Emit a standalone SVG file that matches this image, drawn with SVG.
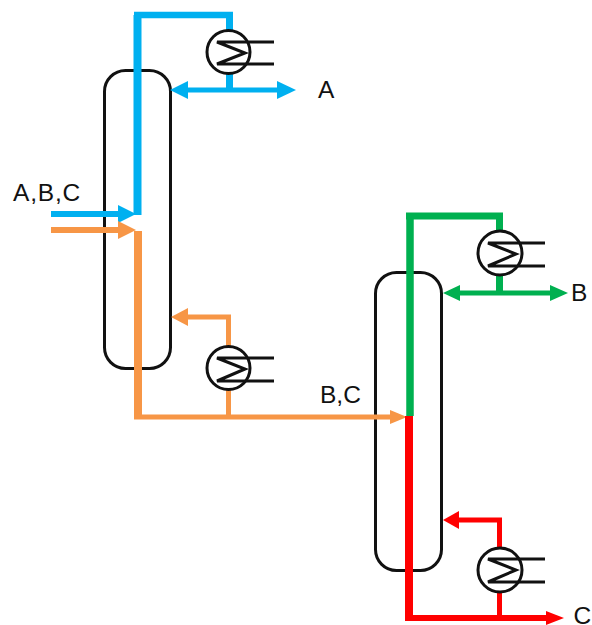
<svg xmlns="http://www.w3.org/2000/svg" width="592" height="625" viewBox="0 0 592 625">
<style>
.col{fill:none;stroke:#111;stroke-width:3}
.ex circle{fill:#fff;stroke:#111;stroke-width:3}
.ex path{fill:none;stroke:#111;stroke-width:3}
.c{fill:none;stroke-linejoin:miter}
.b{stroke:#00b0f0}.o{stroke:#f79646}.g{stroke:#00b050}.r{stroke:#ff0000}
.fb{fill:#00b0f0}.fo{fill:#f79646}.fg{fill:#00b050}.fr{fill:#ff0000}
text{font-family:"Liberation Sans",Arial,sans-serif;font-size:24.500px;fill:#111}
</style>
<rect width="592" height="625" fill="#fff"/>
<g id="column-1"><rect class="col" x="104.500" y="70.500" width="66" height="298" rx="21"/></g>
<g id="column-2"><rect class="col" x="375.500" y="272.500" width="66" height="298" rx="21"/></g>
<g id="connectors">
<path class="c b" stroke-width="8" d="M137.500 215V15"/>
<path class="c b" stroke-width="6.500" d="M134 15H233"/>
<path class="c b" stroke-width="7" d="M229.500 15V90"/>
<path class="c b" stroke-width="5" d="M185 90H280"/>
<path class="fb" d="M170 90L188 81V99Z"/><path class="fb" d="M296 90L277 81V99Z"/>
<path class="c b" stroke-width="6" d="M51 214H120"/><path class="fb" d="M136 214L118 205V223Z"/>
<path class="c o" stroke-width="6" d="M51 230H120"/><path class="fo" d="M136 230L118 221V239Z"/>
<path class="c o" stroke-width="8" d="M138 231V417"/>
<path class="c o" stroke-width="5" d="M134 417H392"/><path class="fo" d="M407 417L390 410V424Z"/>
<path class="c o" stroke-width="5" d="M228.500 417V317H185"/><path class="fo" d="M171 317L188 308V326Z"/>
<path class="c g" stroke-width="7.500" d="M410 416V216"/>
<path class="c g" stroke-width="7" d="M406 216H503"/>
<path class="c g" stroke-width="7" d="M499.500 216V293"/>
<path class="c g" stroke-width="5" d="M458 293H553"/>
<path class="fg" d="M443 293L460 285V301Z"/><path class="fg" d="M568 293L550 285V301Z"/>
<path class="c r" stroke-width="8" d="M409 416V621"/>
<path class="c r" stroke-width="6" d="M405 618H548"/><path class="fr" d="M564 618L546 611V625Z"/>
<path class="c r" stroke-width="5" d="M499.500 618V520H457"/><path class="fr" d="M443 520L459 511V529Z"/>
</g>
<g id="exchanger-1" class="ex"><circle cx="228.500" cy="52" r="21.500"/><path d="M274 42H217L245 53L217 64H274"/></g>
<g id="exchanger-2" class="ex"><circle cx="228.500" cy="368" r="21.500"/><path d="M274 358H217L245 369L217 381H274"/></g>
<g id="exchanger-3" class="ex"><circle cx="500" cy="253" r="22"/><path d="M545 243H488L516 254L488 266H545"/></g>
<g id="exchanger-4" class="ex"><circle cx="500" cy="570" r="22"/><path d="M545 559H488L516 570L488 582H545"/></g>
<g id="labels">
<text x="13" y="201" letter-spacing="0.800">A,B,C</text>
<text x="318" y="98">A</text>
<text x="320" y="403">B,C</text>
<text x="571" y="301">B</text>
<text x="573.500" y="623.500">C</text>
</g>
</svg>
